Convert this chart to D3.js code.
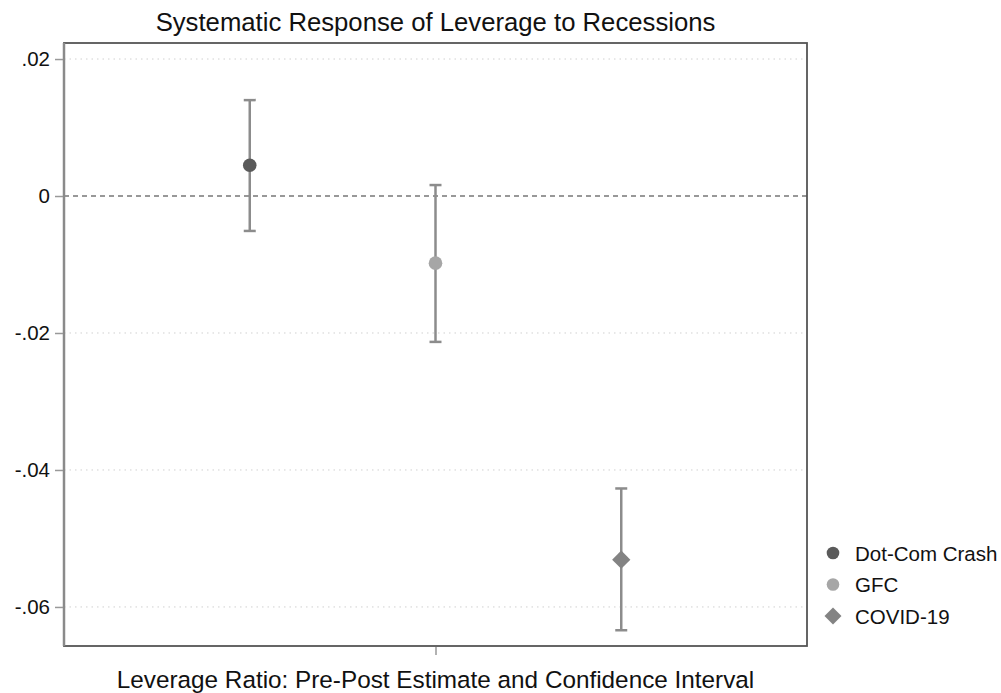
<!DOCTYPE html>
<html>
<head>
<meta charset="utf-8">
<script src="https://d3js.org/d3.v7.min.js"></script>
<style>
  body { margin: 0; background: #fff; }
  svg text { font-family: "Liberation Sans", Arial, sans-serif; fill: #111; }
</style>
</head>
<body>
<script>
var events = ["Dot-Com Crash", "GFC", "COVID-19"];
var positions = [1, 2, 3];
var estimates = [0.0045, -0.0098, -0.0531];
var lowerCI = [-0.0051, -0.0213, -0.0634];
var upperCI = [0.0140, 0.0016, -0.0427];
var yTicks = [0.02, 0, -0.02, -0.04, -0.06];
var yTickLabels = [".02", "0", "-.02", "-.04", "-.06"];
var markerColors = ["#5a5a5a", "#a6a6a6", "#838383"];
var markerShapes = ["circle", "circle", "diamond"];

var width = 1001, height = 693;
var plot = { left: 64, right: 807, top: 43, bottom: 646 };

var svg = d3.select("body").append("svg")
  .attr("width", width)
  .attr("height", height);

var x = d3.scaleLinear().domain([0, 4]).range([plot.left, plot.right]);
var y = d3.scaleLinear().domain([-0.0657, 0.02234]).range([plot.bottom, plot.top]);

// marker path: circle, or a square turned 45 degrees
function marker(shape, size) {
  if (shape === "diamond") {
    return d3.symbol().type(d3.symbolSquare).size(size * 1.15)();
  }
  return d3.symbol().type(d3.symbolCircle).size(size)();
}
function markerRotate(shape) {
  return shape === "diamond" ? " rotate(45)" : "";
}

// grid lines
svg.selectAll("line.grid")
  .data(yTicks.filter(function(d) { return d !== 0; }))
  .enter().append("line")
  .attr("x1", plot.left).attr("x2", plot.right)
  .attr("y1", function(d) { return y(d); })
  .attr("y2", function(d) { return y(d); })
  .attr("stroke", "#d0d0d0")
  .attr("stroke-width", 1)
  .attr("stroke-dasharray", "1.5,4");

// zero reference line
svg.append("line")
  .attr("x1", plot.left).attr("x2", plot.right)
  .attr("y1", y(0)).attr("y2", y(0))
  .attr("stroke", "#777")
  .attr("stroke-width", 1.3)
  .attr("stroke-dasharray", "5,4");

// frame
svg.append("rect")
  .attr("x", plot.left).attr("y", plot.top)
  .attr("width", plot.right - plot.left)
  .attr("height", plot.bottom - plot.top)
  .attr("fill", "none")
  .attr("stroke", "#555")
  .attr("stroke-width", 1.8);
svg.append("line")
  .attr("x1", plot.left).attr("x2", plot.left)
  .attr("y1", plot.top).attr("y2", plot.bottom)
  .attr("stroke", "#8a8a8a")
  .attr("stroke-width", 2.5);

// y axis
var yAxis = d3.axisLeft(y)
  .tickValues(yTicks)
  .tickFormat(function(d, i) { return yTickLabels[i]; })
  .tickSize(8)
  .tickPadding(5);
var gy = svg.append("g")
  .attr("transform", "translate(" + (plot.left - 1) + ",0)")
  .call(yAxis);
gy.select(".domain").remove();
gy.selectAll(".tick line").attr("stroke", "#999").attr("stroke-width", 1.5);
gy.selectAll(".tick text").style("font-size", "20.5px").attr("fill", "#111");

// x axis (single tick in the middle)
var xAxis = d3.axisBottom(x).tickValues([2]).tickFormat("").tickSize(8);
var gx = svg.append("g")
  .attr("transform", "translate(0," + (plot.bottom + 1) + ")")
  .call(xAxis);
gx.select(".domain").remove();
gx.selectAll(".tick line").attr("stroke", "#999").attr("stroke-width", 1.5);

// error bars
var rows = events.map(function(e, i) {
  return { name: e, pos: positions[i], est: estimates[i], lo: lowerCI[i], hi: upperCI[i],
           color: markerColors[i], shape: markerShapes[i] };
});

var bars = svg.selectAll("g.ci").data(rows).enter().append("g").attr("class", "ci");
bars.append("line")
  .attr("x1", function(d) { return x(d.pos); })
  .attr("x2", function(d) { return x(d.pos); })
  .attr("y1", function(d) { return y(d.lo); })
  .attr("y2", function(d) { return y(d.hi); })
  .attr("stroke", "#8c8c8c").attr("stroke-width", 2.5);
["lo", "hi"].forEach(function(k) {
  bars.append("line")
    .attr("x1", function(d) { return x(d.pos) - 6; })
    .attr("x2", function(d) { return x(d.pos) + 6; })
    .attr("y1", function(d) { return y(d[k]); })
    .attr("y2", function(d) { return y(d[k]); })
    .attr("stroke", "#8c8c8c").attr("stroke-width", 2.5);
});

// point estimates
bars.append("path")
  .attr("transform", function(d) {
    return "translate(" + x(d.pos) + "," + y(d.est) + ")" + markerRotate(d.shape);
  })
  .attr("d", function(d) { return marker(d.shape, 145); })
  .attr("fill", function(d) { return d.color; });

// title and x label
svg.append("text")
  .attr("x", 435.5).attr("y", 30.5)
  .attr("text-anchor", "middle")
  .style("font-size", "25.7px")
  .text("Systematic Response of Leverage to Recessions");
svg.append("text")
  .attr("x", 435.5).attr("y", 688)
  .attr("text-anchor", "middle")
  .style("font-size", "24.3px")
  .text("Leverage Ratio: Pre-Post Estimate and Confidence Interval");

// legend
var legend = svg.selectAll("g.legend").data(rows).enter().append("g")
  .attr("class", "legend")
  .attr("transform", function(d, i) { return "translate(833," + (553 + i * 31.5) + ")"; });
legend.append("path")
  .attr("transform", function(d) { return markerRotate(d.shape).trim(); })
  .attr("d", function(d) { return marker(d.shape, 125); })
  .attr("fill", function(d) { return d.color; });
legend.append("text")
  .attr("x", 22).attr("y", 7.5)
  .style("font-size", "20.5px")
  .text(function(d) { return d.name; });
</script>
</body>
</html>
